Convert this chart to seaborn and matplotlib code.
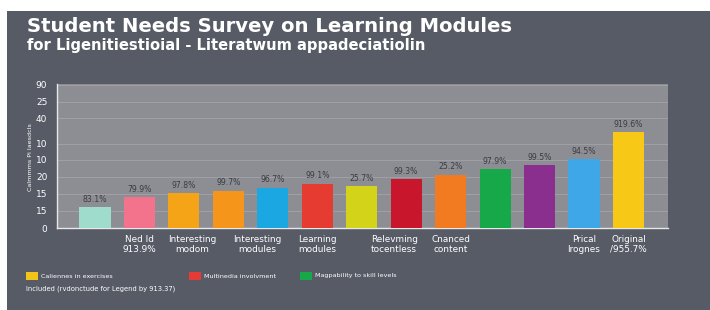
import matplotlib
matplotlib.use("Agg")
import matplotlib.pyplot as plt
import matplotlib.transforms as mtrans
import seaborn as sns
import pandas as pd
from matplotlib.patches import Rectangle

sns.set_theme(style="white")
plt.rcParams['font.family'] = ['DejaVu Sans']

# ---- data ----
categories = ["c01", "c02", "c03", "c04", "c05", "c06", "c07",
              "c08", "c09", "c10", "c11", "c12", "c13"]
values = [13.2, 19.5, 22.0, 23.3, 25.2, 27.7, 26.4, 30.8, 33.4, 37.1, 39.6, 43.4, 60.4]
value_labels = ["83.1%", "79.9%", "97.8%", "99.7%", "96.7%", "99.1%", "25.7%",
                "99.3%", "25.2%", "97.9%", "99.5%", "94.5%", "919.6%"]
tick_labels = ["", "Ned Id\n913.9%", "Interesting\nmodom", "", "Interesting\nmodules",
               "Learning\nmodules", "", "Relevming\ntocentless", "Cnanced\ncontent",
               "", "", "Prical\nIrognes", "Original\n/955.7%"]
colors = ["#9fdccb", "#f2738b", "#f5a417", "#f59519", "#1ba7e1", "#e63b30", "#d3d41a",
          "#c8172d", "#f27b22", "#17a84a", "#8a2f8e", "#3ea7e8", "#f8c816"]
y_tick_values = [0, 10.7, 21.4, 32.1, 42.8, 52.9, 69.2, 79.3, 90]
y_tick_labels = ["0", "15", "15", "20", "10", "10", "40", "25", "90"]
legend_labels = ["Caliennes in exercises", "Multinedia involvment", "Magpability to skill levels"]
legend_colors = ["#f2c318", "#e53a35", "#17a84a"]
title_1 = "Student Needs Survey on Learning Modules"
title_2 = "for Ligenitiestioial - Literatwum appadeciatiolin"
y_label = "Calmmms Pi laesdcls"
footer = "Included (rvdonctude for Legend by 913.37)"

df = pd.DataFrame({"category": categories, "value": values})

W, H = 710, 310
fig = plt.figure(figsize=(W / 100, H / 100), dpi=100, facecolor="white")
bg = "#565b66"
fig.patches.append(Rectangle((7 / W, 0), 1 - 7 / W, (H - 11) / H,
                             transform=fig.transFigure, facecolor=bg,
                             edgecolor="none", zorder=-10))

ax = fig.add_axes([57 / W, 82 / H, 611 / W, 144 / H])
ax.set_zorder(2)
ax.set_facecolor("#8c8e93")

sns.barplot(data=df, x="category", y="value", hue="category", palette=colors,
            order=categories, hue_order=categories, legend=False, width=0.7,
            saturation=1, linewidth=0, edgecolor="none", ax=ax, zorder=3)

for i, (v, lab) in enumerate(zip(values, value_labels)):
    ax.text(i, v + 2.2, lab, ha="center", va="bottom", fontsize=5.6, color="#3a3c42", zorder=4)

ax.set_xlim(-0.855, 12.89)
ax.set_ylim(0, 90.6)
ax.set_yticks(y_tick_values)
ax.set_yticklabels(y_tick_labels, fontsize=6.5, color="white")
ax.set_xticks(range(len(categories)))
ax.set_xticklabels(tick_labels, fontsize=6.4, color="white", linespacing=1.1)
ax.tick_params(axis="x", length=2, color="white", pad=3)
ax.tick_params(axis="y", length=0, pad=7)
# small visual offsets of some category labels, as in the reference
label_shift_px = {2: 8, 4: -16, 7: -12}
for idx, dx in label_shift_px.items():
    lbl = ax.get_xticklabels()[idx]
    lbl.set_transform(lbl.get_transform() + mtrans.ScaledTranslation(dx / 100, 0, fig.dpi_scale_trans))
ax.grid(axis="y", color="#a2a4a8", linewidth=0.6, zorder=0)
ax.set_axisbelow(True)
for s in ["top", "right"]:
    ax.spines[s].set_visible(False)
for s in ["left", "bottom"]:
    ax.spines[s].set_color("#e8e8ea")
    ax.spines[s].set_linewidth(1.0)
ax.set_xlabel("")
ax.set_ylabel(y_label, fontsize=4.6, color="white")
ax.yaxis.set_label_coords(-0.04, 0.49)

fig.text(27 / W, 1 - 27 / H, title_1, fontsize=14.1, fontweight="bold", color="white", va="center", ha="left")
fig.text(27 / W, 1 - 45.5 / H, title_2, fontsize=10.6, fontweight="bold", color="white", va="center", ha="left")

leg_x = [26, 189, 300]
for x, lab, c in zip(leg_x, legend_labels, legend_colors):
    fig.patches.append(Rectangle((x / W, 1 - 280 / H), 12 / W, 8 / H, transform=fig.transFigure,
                                 facecolor=c, edgecolor="none"))
    fig.text((x + 15) / W, 1 - 276 / H, lab, fontsize=4.6, color="white", va="center", ha="left")

fig.text(26 / W, 1 - 289 / H, footer, fontsize=4.9, color="white", va="center", ha="left")

fig.savefig("out.png", dpi=100, facecolor=fig.get_facecolor())
